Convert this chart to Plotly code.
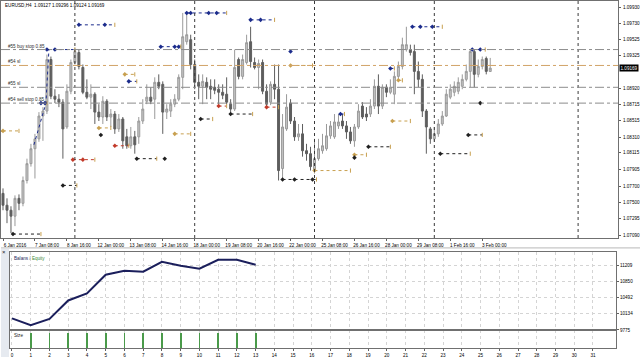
import plotly.graph_objects as go

# ---------------- data ----------------
symbol = "EURUSD,H4"
time_label_bars = [0, 8, 16, 24, 32, 40, 48, 56, 64, 72, 80, 88, 96, 104, 112, 120]
time_labels = ["6 Jan 2016", "7 Jan 08:00", "8 Jan 16:00", "12 Jan 00:00", "13 Jan 08:00",
               "14 Jan 16:00", "18 Jan 00:00", "19 Jan 08:00", "20 Jan 16:00", "22 Jan 00:00",
               "25 Jan 08:00", "26 Jan 16:00", "28 Jan 00:00", "29 Jan 08:00", "1 Feb 16:00",
               "3 Feb 00:00"]

opens = [1.07609, 1.07461, 1.07399, 1.07325, 1.07547, 1.07485, 1.07769, 1.07979, 1.08165, 1.08288,
         1.08572, 1.08634, 1.09276, 1.08819, 1.08782, 1.08745, 1.08436, 1.08881, 1.09239, 1.09363,
         1.09177, 1.08868, 1.08807, 1.08844, 1.08621, 1.08560, 1.08757, 1.08560, 1.08597, 1.08412,
         1.08535, 1.08313, 1.08202, 1.08313, 1.08313, 1.08510, 1.08757, 1.08807, 1.08782, 1.08992,
         1.08967, 1.08621, 1.08634, 1.08720, 1.08782, 1.09054, 1.09498, 1.09523, 1.09214, 1.08992,
         1.08943, 1.08992, 1.08943, 1.08930, 1.08906, 1.08868, 1.08844, 1.08720, 1.08659, 1.09276,
         1.09066, 1.09239, 1.09498, 1.09239, 1.09177, 1.09239, 1.08881, 1.08745, 1.08967, 1.08906,
         1.07918, 1.08412, 1.08733, 1.08510, 1.08313, 1.08350, 1.08140, 1.08103, 1.07893, 1.08041,
         1.08140, 1.08165, 1.08325, 1.08313, 1.08449, 1.08510, 1.08449, 1.08374, 1.08263, 1.08436,
         1.08696, 1.08597, 1.08597, 1.08696, 1.08943, 1.08696, 1.08930, 1.08868, 1.08844, 1.09066,
         1.09190, 1.09400, 1.09400, 1.09375, 1.09128, 1.09029, 1.08634, 1.08412, 1.08288, 1.08350,
         1.08473, 1.08572, 1.08807, 1.08868, 1.08881, 1.08943, 1.09029, 1.09128, 1.09375, 1.09091,
         1.09190, 1.09289, 1.09127]
highs = [1.07671, 1.07547, 1.07448, 1.07584, 1.07596, 1.07819, 1.08041, 1.08226, 1.08350, 1.08621,
         1.08683, 1.09338, 1.09313, 1.08906, 1.08844, 1.08782, 1.08967, 1.09276, 1.09424, 1.09400,
         1.09214, 1.09029, 1.08967, 1.08868, 1.08720, 1.08819, 1.08782, 1.08659, 1.08634, 1.08597,
         1.08560, 1.08412, 1.08436, 1.08387, 1.08560, 1.08782, 1.08967, 1.08930, 1.09054, 1.09091,
         1.09004, 1.08720, 1.08782, 1.08844, 1.09091, 1.09856, 1.09856, 1.09585, 1.09276, 1.09091,
         1.09091, 1.09054, 1.09029, 1.09029, 1.08967, 1.08967, 1.09054, 1.08782, 1.09400, 1.09301,
         1.09338, 1.09585, 1.09684, 1.09301, 1.09276, 1.09276, 1.08967, 1.09004, 1.09214, 1.09214,
         1.08597, 1.08844, 1.08782, 1.08560, 1.08473, 1.08473, 1.08226, 1.08189, 1.08288, 1.08288,
         1.08350, 1.08473, 1.08510, 1.08597, 1.08597, 1.08597, 1.08510, 1.08436, 1.08473, 1.08720,
         1.08745, 1.08683, 1.08782, 1.09029, 1.09091, 1.08967, 1.08967, 1.09029, 1.09128, 1.09251,
         1.09548, 1.09684, 1.09461, 1.09461, 1.09251, 1.09091, 1.08659, 1.08436, 1.08436, 1.08535,
         1.08634, 1.08906, 1.08967, 1.09004, 1.09054, 1.09091, 1.09214, 1.09400, 1.09400, 1.09276,
         1.09313, 1.09313, 1.09296]
lows = [1.07399, 1.07238, 1.07115, 1.07201, 1.07399, 1.07448, 1.07732, 1.07942, 1.07794, 1.08251,
        1.08263, 1.08597, 1.08782, 1.08733, 1.08683, 1.08041, 1.08412, 1.08844, 1.09214, 1.09153,
        1.08844, 1.08782, 1.08659, 1.08473, 1.08510, 1.08473, 1.08510, 1.08436, 1.08350, 1.08374,
        1.08165, 1.08165, 1.08165, 1.08103, 1.08226, 1.08473, 1.08720, 1.08720, 1.08535, 1.08906,
        1.08350, 1.08535, 1.08560, 1.08683, 1.08757, 1.08906, 1.09461, 1.09153, 1.08906, 1.08782,
        1.08720, 1.08782, 1.08782, 1.08844, 1.08720, 1.08782, 1.08720, 1.08621, 1.08634, 1.09029,
        1.09029, 1.09214, 1.09177, 1.09153, 1.08906, 1.08844, 1.08659, 1.08708, 1.08782, 1.07769,
        1.07794, 1.08387, 1.08473, 1.08263, 1.08263, 1.08066, 1.08016, 1.07893, 1.07856, 1.08016,
        1.08103, 1.08140, 1.08288, 1.08288, 1.08412, 1.08412, 1.08288, 1.08226, 1.08189, 1.08412,
        1.08535, 1.08510, 1.08560, 1.08659, 1.08597, 1.08659, 1.08807, 1.08844, 1.08720, 1.09029,
        1.09153, 1.09375, 1.09326, 1.08844, 1.08930, 1.08560, 1.08103, 1.08226, 1.08251, 1.08313,
        1.08449, 1.08560, 1.08782, 1.08819, 1.08844, 1.08906, 1.09004, 1.08930, 1.08930, 1.09054,
        1.09153, 1.09091, 1.09124]
closes = [1.07461, 1.07399, 1.07325, 1.07547, 1.07485, 1.07769, 1.07979, 1.08165, 1.08288, 1.08572,
          1.08634, 1.09276, 1.08819, 1.08782, 1.08745, 1.08412, 1.08881, 1.09239, 1.09375, 1.09190,
          1.08868, 1.08807, 1.08844, 1.08621, 1.08560, 1.08757, 1.08560, 1.08597, 1.08412, 1.08535,
          1.08263, 1.08202, 1.08313, 1.08214, 1.08510, 1.08659, 1.08807, 1.08757, 1.08992, 1.08943,
          1.08621, 1.08659, 1.08720, 1.08782, 1.09054, 1.09560, 1.09585, 1.09214, 1.08992, 1.08943,
          1.09004, 1.08930, 1.08906, 1.08893, 1.08868, 1.08831, 1.08745, 1.08659, 1.09177, 1.09066,
          1.09276, 1.09486, 1.09251, 1.09177, 1.09227, 1.08881, 1.08720, 1.08967, 1.08906, 1.07893,
          1.08436, 1.08683, 1.08510, 1.08313, 1.08350, 1.08140, 1.08103, 1.07942, 1.08041, 1.08165,
          1.08202, 1.08325, 1.08449, 1.08498, 1.08498, 1.08449, 1.08374, 1.08263, 1.08436, 1.08634,
          1.08560, 1.08560, 1.08696, 1.08943, 1.08696, 1.08930, 1.08868, 1.08930, 1.09066, 1.09190,
          1.09461, 1.09461, 1.09363, 1.09128, 1.09029, 1.08634, 1.08436, 1.08288, 1.08350, 1.08473,
          1.08572, 1.08844, 1.08906, 1.08943, 1.08992, 1.09029, 1.09128, 1.09375, 1.09091, 1.09190,
          1.09276, 1.09128, 1.09169]

price_ticks = [1.07090, 1.07295, 1.07500, 1.07700, 1.07905, 1.08115, 1.08310, 1.08515, 1.08715,
               1.08920, 1.09325, 1.09525, 1.09730, 1.09930]
separator_bars = [18, 48, 78, 108, 144]

level_prices = [1.09400, 1.09202, 1.08930, 1.08733]
level_labels = ["#55 buy stop 0.85", "#54 sl", "#55 sl", "#54 sell stop 0.85"]
level_colors = ["#8c8c8c", "#d2a468", "#8c8c8c", "#8c8c8c"]

# trade history segments: from bar, to bar, price, colour group
seg_from = [19, 11, 9.5, 0, 17.5, 15, 2.5, 24, 28, 46, 39.5, 31.5, 30.5, 49.5, 43, 33.5, 54, 57, 62,
            72, 66, 70, 78, 84.5, 91.5, 88, 102.5, 97, 99, 97.5, 117.5, 116.5, 109.5]
seg_to = [28, 18, 11, 4, 23, 18.5, 9.5, 27, 31.5, 56, 44.5, 33.5, 33, 52.5, 47, 38.5, 56, 62.5, 68,
          77.5, 69, 78.5, 87, 85.5, 97, 91, 110, 98, 100, 102, 120.75, 120, 117]
seg_price = [1.09708, 1.09400, 1.08733, 1.08387, 1.08029, 1.07708, 1.07102, 1.08424, 1.08202,
             1.09856, 1.09436, 1.09004, 1.09091, 1.08535, 1.08350, 1.08041, 1.08696, 1.08597,
             1.09770, 1.09202, 1.08683, 1.07782, 1.07893, 1.08597, 1.08189, 1.08090, 1.09684,
             1.09165, 1.09017, 1.08510, 1.09400, 1.08337, 1.08103]
seg_kind = ["buy", "buy", "buy", "sl", "sell", "close", "close", "sl", "sell", "buy", "buy", "buy",
            "sl", "close", "sl", "close", "sell", "close", "buy", "sl", "sell", "close", "sl", "buy",
            "close", "sl", "buy", "buy", "sl", "sl", "buy", "close", "close"]

arrow_bar = [25.5, 13, 20, 47, 51.5, 53.5, 43, 44, 64.5, 73, 77.5, 104.5, 107.5, 119.5, 24.5, 40.5,
             72, 88, 119.5, 10.5]
arrow_price = [1.09708, 1.09400, 1.08029, 1.09856, 1.09856, 1.09856, 1.09436, 1.09436, 1.09770,
               1.07782, 1.07782, 1.09684, 1.09684, 1.09400, 1.08337, 1.08041, 1.09375, 1.08054,
               1.08733, 1.08733]
arrow_kind = ["buy", "buy", "sell", "buy", "buy", "buy", "buy", "buy", "buy", "close", "close", "buy",
              "buy", "buy", "close", "close", "buy", "close", "close", "buy"]

entry_path_bar = [7.75, 10.75, 11.5]
entry_path_price = [1.08214, 1.08733, 1.09400]

kind_colors = {"buy": "#1c2c8c", "sell": "#c23a2a", "sl": "#c8a050", "close": "#202020"}

# balance / size sub-window
deal_no = list(range(0, 32))
balance_x = [0, 1, 2, 3, 4, 5, 6, 7, 8, 9, 10, 11, 12, 13]
balance = [10033, 9879, 10020, 10430, 10585, 11004, 11092, 11070, 11291, 11202, 11136, 11335, 11335, 11224]
size_x = [1, 2, 3, 4, 5, 6, 7, 8, 9, 10, 11, 12, 13]
size = [0.85, 0.85, 0.85, 0.85, 0.85, 0.85, 0.85, 0.85, 0.85, 0.85, 0.85, 0.85, 0.85]
balance_ticks = [9775, 10134, 10492, 10850, 11209]

# ---------------- figure ----------------
W, H = 640, 360
FONT = "Liberation Sans"
FS = 4.6

fig = go.Figure()

bars = list(range(len(opens)))
fig.add_trace(go.Candlestick(
    x=bars, open=opens, high=highs, low=lows, close=closes,
    increasing=dict(fillcolor="#c4c4c4", line=dict(color="#9a9a9a", width=1)),
    decreasing=dict(fillcolor="#5e5e5e", line=dict(color="#5e5e5e", width=1)),
    whiskerwidth=0, hoverinfo="skip", xaxis="x", yaxis="y"))

# trade segments grouped by colour
for kind, col in kind_colors.items():
    xs, ys = [], []
    for f, t, p, k in zip(seg_from, seg_to, seg_price, seg_kind):
        if k == kind:
            xs += [f, t, None]
            ys += [p, p, None]
    fig.add_trace(go.Scatter(x=xs, y=ys, mode="lines", line=dict(color=col, width=1, dash="dot"),
                             hoverinfo="skip", xaxis="x", yaxis="y"))
    mx = [f for f, k in zip(seg_from, seg_kind) if k == kind] + [b for b, k in zip(arrow_bar, arrow_kind) if k == kind]
    my = [p for p, k in zip(seg_price, seg_kind) if k == kind] + [p for p, k in zip(arrow_price, arrow_kind) if k == kind]
    fig.add_trace(go.Scatter(x=mx, y=my, mode="markers",
                             marker=dict(symbol="diamond", size=3.5, color=col),
                             hoverinfo="skip", xaxis="x", yaxis="y"))
    ex = [t for t, k in zip(seg_to, seg_kind) if k == kind]
    ey = [p for p, k in zip(seg_price, seg_kind) if k == kind]
    fig.add_trace(go.Scatter(x=ex, y=ey, mode="markers",
                             marker=dict(symbol="line-ns", size=3, color="#c8a050",
                                         line=dict(color="#c8a050", width=1)),
                             hoverinfo="skip", xaxis="x", yaxis="y"))

fig.add_trace(go.Scatter(x=entry_path_bar, y=entry_path_price, mode="lines",
                         line=dict(color=kind_colors["buy"], width=1, dash="dot"),
                         hoverinfo="skip", xaxis="x", yaxis="y"))

# balance line
fig.add_trace(go.Scatter(x=balance_x, y=balance, mode="lines",
                         line=dict(color="#1b1f5c", width=2), hoverinfo="skip",
                         xaxis="x2", yaxis="y2"))
# size bars
fig.add_trace(go.Bar(x=size_x, y=size, width=0.045, marker=dict(color="#4a9a4a", line=dict(width=0)),
                     hoverinfo="skip", xaxis="x3", yaxis="y3"))

shapes = []
for b in separator_bars:
    shapes.append(dict(type="line", xref="x", yref="y domain", x0=b, x1=b, y0=0, y1=1,
                       line=dict(color="#3a3a3a", width=1, dash="dot")))
for p, c in zip(level_prices, level_colors):
    shapes.append(dict(type="line", xref="x domain", yref="y", x0=0, x1=1, y0=p, y1=p,
                       line=dict(color=c, width=1, dash="dashdot")))
# splitter and left strip of the sub-window
shapes.append(dict(type="line", xref="paper", yref="paper", x0=0, x1=1, y0=1 - 250 / H, y1=1 - 250 / H,
                   line=dict(color="#b8b8b8", width=1)))
shapes.append(dict(type="rect", xref="paper", yref="paper", x0=0, x1=8 / W, y0=0, y1=1 - 251 / H,
                   fillcolor="#e6eaf0", line=dict(width=0), layer="below"))
shapes.append(dict(type="line", xref="x2 domain", yref="y2 domain", x0=0, x1=1, y0=0, y1=0,
                   line=dict(color="#707070", width=2)))

annotations = []
annotations.append(dict(xref="paper", yref="paper", x=2 / W, y=1 - 1 / H, xanchor="left", yanchor="top",
                        text="%s  %.5f %.5f %.5f %.5f" % (symbol, opens[-1], highs[-1], lows[-1], closes[-1]),
                        showarrow=False, font=dict(family=FONT, size=FS, color="#000000")))
for p, lab in zip(level_prices, level_labels):
    annotations.append(dict(xref="paper", yref="y", x=5 / W, y=p, xanchor="left", yanchor="bottom",
                            text=lab, showarrow=False, yshift=-1,
                            font=dict(family=FONT, size=FS, color="#303030")))
annotations.append(dict(xref="paper", yref="y", x=618 / W, y=closes[-1], xanchor="left", yanchor="middle",
                        text="%.5f" % closes[-1], showarrow=False, bgcolor="#000000", borderpad=0.5,
                        xshift=1, font=dict(family=FONT, size=FS, color="#ffffff")))
annotations.append(dict(xref="paper", yref="paper", x=11 / W, y=1 - 256 / H, xanchor="left", yanchor="top",
                        text="<span style='color:#1b1f5c'>Balans</span> / <span style='color:#3c8c3c'>Equity</span>",
                        showarrow=False, font=dict(family=FONT, size=FS, color="#606060")))
annotations.append(dict(xref="paper", yref="paper", x=11 / W, y=1 - 334 / H, xanchor="left", yanchor="top",
                        text="Size", showarrow=False, font=dict(family=FONT, size=FS, color="#202020")))
annotations.append(dict(xref="paper", yref="paper", x=3 / W, y=1 - 254 / H, xanchor="center", yanchor="middle",
                        text="×", showarrow=False, font=dict(family=FONT, size=6, color="#202020")))

axis_font = dict(family=FONT, size=FS, color="#000000")
sub_x = [9 / W, 616 / W]
fig.update_layout(
    width=W, height=H, margin=dict(l=0, r=0, t=0, b=0),
    paper_bgcolor="#ffffff", plot_bgcolor="#ffffff", showlegend=False,
    shapes=shapes, annotations=annotations, bargap=0,
    xaxis=dict(domain=[0, 618 / W], range=[-0.5, 154], tickvals=time_label_bars, ticktext=time_labels,
               tickfont=axis_font, ticks="outside", ticklen=2, tickcolor="#606060",
               ticklabelshift=12, ticklabelstandoff=0, ticklabeloverflow="allow",
               showgrid=False, zeroline=False, showline=True, linecolor="#707070", mirror=True,
               rangeslider=dict(visible=False), anchor="y", fixedrange=True),
    yaxis=dict(domain=[1 - 240 / H, 1 - 1 / H], range=[1.07053, 1.10005], side="right",
               tickvals=price_ticks, tickformat=".5f", tickfont=axis_font, ticks="outside",
               ticklen=2, tickcolor="#606060", ticklabelstandoff=1, ticklabeloverflow="allow",
               showgrid=False, zeroline=False, showline=True, linecolor="#707070", mirror=True,
               anchor="x", fixedrange=True),
    xaxis2=dict(domain=sub_x, range=[-0.107, 32.23], tickvals=deal_no, showticklabels=False,
                showgrid=True, gridcolor="#d4d4d4", griddash="dot", gridwidth=1, zeroline=False,
                showline=True, linecolor="#707070", mirror=True, anchor="y2", ticks=""),
    yaxis2=dict(domain=[1 - 332.7 / H, 1 - 254 / H], range=[9775, 11511], side="right",
                tickvals=balance_ticks, tickformat="d", tickfont=axis_font, ticks="outside", ticklen=2,
                tickcolor="#606060", ticklabelstandoff=0, ticklabeloverflow="allow",
                showgrid=True, gridcolor="#d4d4d4", griddash="dot", zeroline=False,
                showline=True, linecolor="#707070", mirror=True, anchor="x2"),
    xaxis3=dict(domain=sub_x, range=[-0.107, 32.23], tickvals=deal_no, tickfont=axis_font,
                showgrid=True, gridcolor="#d4d4d4", griddash="dot", zeroline=False,
                ticks="outside", ticklen=2, tickcolor="#606060", ticklabelstandoff=0,
                showline=True, linecolor="#707070", mirror=True, anchor="y3"),
    yaxis3=dict(domain=[1 - 351 / H, 1 - 332.7 / H], range=[0, 1.0], showticklabels=False,
                showgrid=False, zeroline=False, showline=True, linecolor="#707070", mirror=True,
                anchor="x3", ticks=""),
)

fig.write_html("out.html")
